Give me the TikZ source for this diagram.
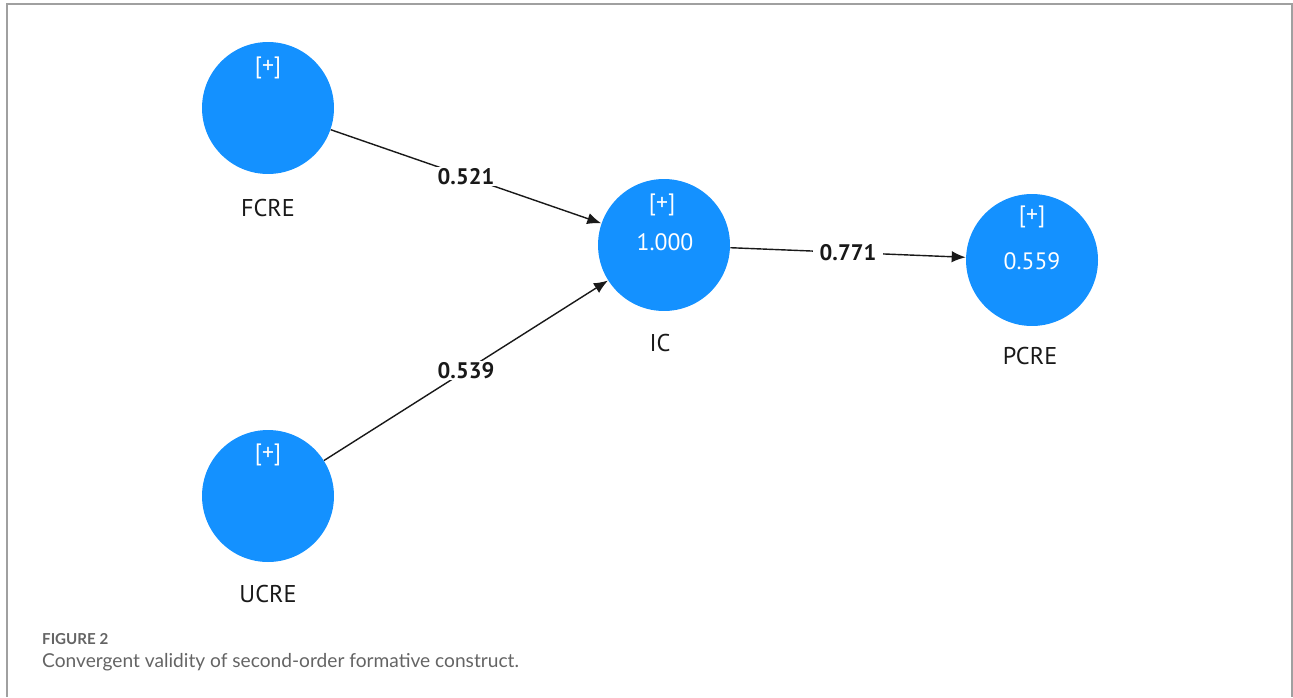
\documentclass[tikz,border=0pt]{standalone}
\usepackage{fontspec}
\setmainfont{PT Sans}
\newfontfamily\captionfont{Lato}
\usepackage{tikz}
\usetikzlibrary{positioning, arrows.meta, shapes}
\definecolor{plsblue}{RGB}{20,145,255}
\definecolor{framegray}{RGB}{160,160,160}
\definecolor{capgray}{RGB}{100,100,100}

\begin{document}
\begin{tikzpicture}[x=0.02cm, y=-0.02cm,
  construct/.style={circle, fill=plsblue, minimum size=2.64cm, inner sep=0pt},
  inside/.style={text=white, font=\fontsize{13.5}{15}\selectfont},
  latent/.style={text=black!90, font=\fontsize{13.8}{16}\selectfont},
  weight/.style={fill=white, inner xsep=4pt, inner ysep=1pt, font=\bfseries\fontsize{12.8}{15}\selectfont},
  arrow/.style={-{Latex[length=8pt, width=6.5pt]}, line width=0.8pt, black!90}
]

\useasboundingbox (0,0) rectangle (1293,697);
\draw[framegray, line width=0.9pt] (7,697) -- (7,4) -- (1292,4) -- (1292,697); % frame

\node[construct] (FCRE) at (268,108) {};
\node[construct] (UCRE) at (268,496) {};
\node[construct] (IC) at (664,245) {};
\node[construct] (PCRE) at (1032,260) {};

\node[inside] (FCREplus) at (268,68) {[+]};
\node[inside] (UCREplus) at (268,455) {[+]};
\node[inside] (ICplus) at (662,205) {[+]};
\node[inside] (ICval) at (665,242) {1.000};
\node[inside] (PCREplus) at (1032,217) {[+]};
\node[inside] (PCREval) at (1032,261) {0.559};

\node[latent] (FCREname) at (268,208) {FCRE};
\node[latent] (UCREname) at (268,594) {UCRE};
\node[latent] (ICname) at (660,343) {IC};
\node[latent] (PCREname) at (1030,356) {PCRE};

\draw[arrow] (FCRE) -- node[weight] (wFCRE) {0.521} (IC);
\draw[arrow] (UCRE) -- node[weight] (wUCRE) {0.539} (IC);
\draw[arrow] (IC) -- node[weight] (wIC) {0.771} (PCRE);

% caption
\node[anchor=base west, text=capgray, font=\captionfont\bfseries\fontsize{8.6}{10}\selectfont] (figno) at (36,644) {FIGURE 2};
\node[anchor=base west, text=capgray, font=\captionfont\fontsize{10.9}{13}\selectfont] (figcap) at (36,667) {Convergent validity of second-order formative construct.};

\end{tikzpicture}
\end{document}
